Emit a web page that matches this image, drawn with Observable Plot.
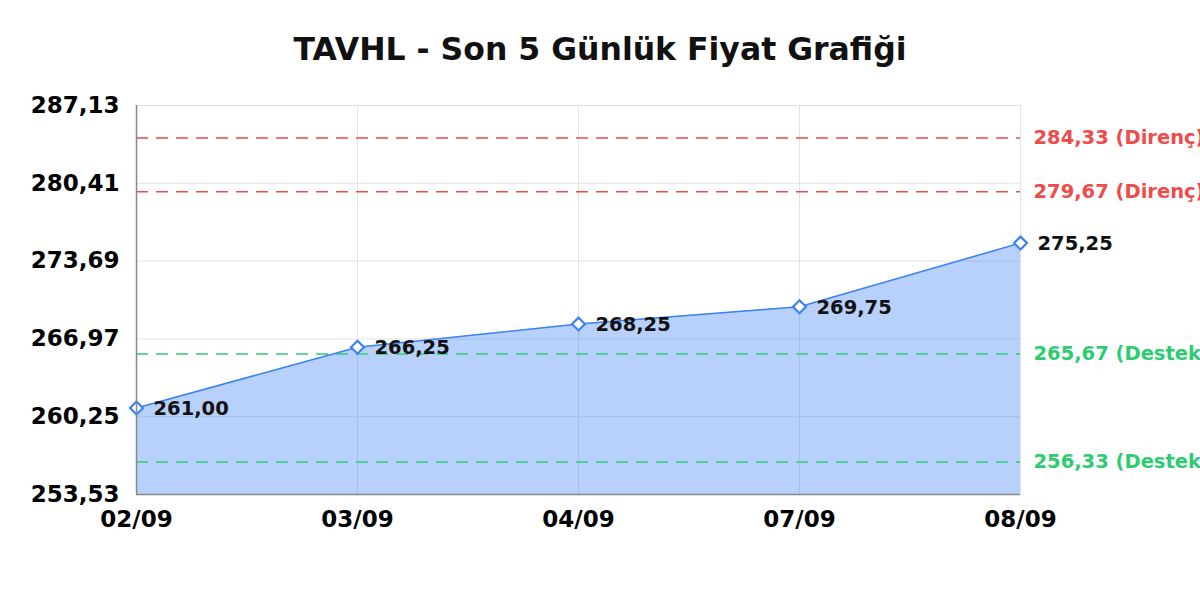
<!DOCTYPE html>
<html>
<head>
<meta charset="utf-8">
<script src="https://cdn.jsdelivr.net/npm/d3@7"></script>
<script src="https://cdn.jsdelivr.net/npm/@observablehq/plot@0.6"></script>
<style>
  body { margin: 0; background: #fff; font-family: "DejaVu Sans", sans-serif; }
  #title { box-sizing: border-box; height: 80px; padding-top: 33px; line-height: 32px;
           text-align: center; font-size: 31.5px; font-weight: bold; color: #111; }
  #chart svg { display: block; }
</style>
</head>
<body>
<div id="title">TAVHL - Son 5 Günlük Fiyat Grafiği</div>
<div id="chart"></div>
<script>
const dates = ["02/09", "03/09", "04/09", "07/09", "08/09"];
const prices = [261.00, 266.25, 268.25, 269.75, 275.25];
const yTicks = [253.53, 260.25, 266.97, 273.69, 280.41, 287.13];
const resistance = [284.33, 279.67];
const support = [265.67, 256.33];
const resistanceLabel = "Direnç";
const supportLabel = "Destek";

const fmt = v => d3.format(".2f")(v).replace(".", ",");
const data = dates.map((d, i) => ({date: d, price: prices[i]}));
const yMin = yTicks[0], yMax = yTicks[yTicks.length - 1];

const blue = "#3b82f6";
const red = "#ef4b4b";
const green = "#2ecc71";

const chart = Plot.plot({
  width: 1200,
  height: 520,
  marginTop: 25,
  marginBottom: 106,
  marginLeft: 136,
  marginRight: 180,
  style: {fontFamily: "DejaVu Sans", fontWeight: "bold", fontSize: "23px", color: "#000", background: "#fff"},
  x: {type: "point", domain: dates, padding: 0, label: null},
  y: {domain: [yMin, yMax], label: null},
  marks: [
    Plot.gridY(yTicks, {stroke: "#e3e3e3", strokeOpacity: 1}),
    Plot.gridX(dates, {stroke: "#e3e3e3", strokeOpacity: 1}),
    Plot.areaY(data, {x: "date", y1: yMin, y2: "price", fill: blue, fillOpacity: 0.37}),
    Plot.ruleY(resistance, {stroke: red, strokeDasharray: "12,8", strokeWidth: 1.5}),
    Plot.ruleY(support, {stroke: green, strokeDasharray: "12,8", strokeWidth: 1.5}),
    Plot.text(resistance, {y: d => d, text: d => `${fmt(d)} (${resistanceLabel})`, frameAnchor: "right",
      dx: 13, textAnchor: "start", fill: red, fontSize: 19.5, fontWeight: "bold"}),
    Plot.text(support, {y: d => d, text: d => `${fmt(d)} (${supportLabel})`, frameAnchor: "right",
      dx: 13, textAnchor: "start", fill: green, fontSize: 19.5, fontWeight: "bold"}),
    Plot.lineY(data, {x: "date", y: "price", stroke: blue, strokeWidth: 1.5}),
    Plot.dot(data, {x: "date", y: "price", symbol: "diamond2", r: 5.8, stroke: blue, fill: "white", strokeWidth: 2.2}),
    Plot.text(data, {x: "date", y: "price", text: d => fmt(d.price), dx: 17, dy: 1, textAnchor: "start",
      fill: "#111", fontSize: 19.5, fontWeight: "bold"}),
    Plot.ruleX([dates[0]], {stroke: "#888", strokeWidth: 1.5}),
    Plot.ruleY([yMin], {stroke: "#888", strokeWidth: 1.5}),
    Plot.axisY(yTicks, {tickSize: 0, tickPadding: 17, tickFormat: fmt, fontSize: 23, fontWeight: "bold", label: null}),
    Plot.axisX(dates, {tickSize: 0, tickPadding: 16, fontSize: 23, fontWeight: "bold", label: null})
  ]
});
document.getElementById("chart").appendChild(chart);
</script>
</body>
</html>
